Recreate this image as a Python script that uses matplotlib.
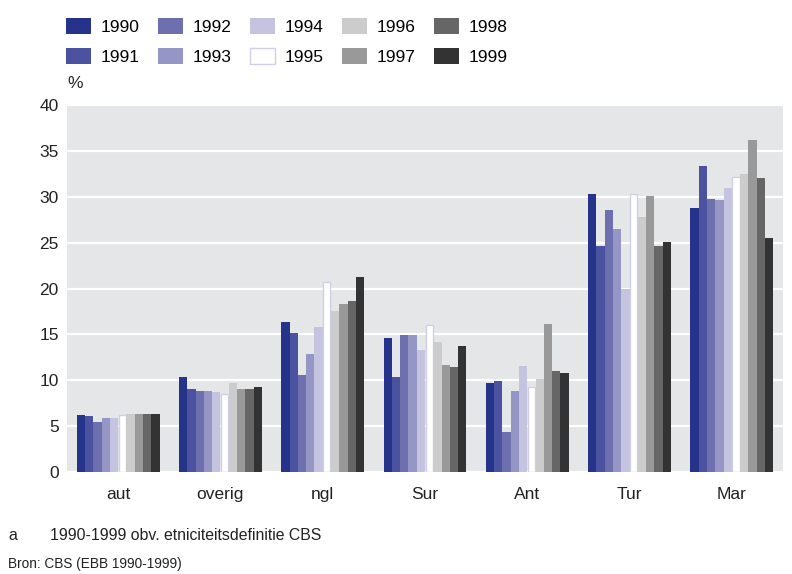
import numpy as np
import matplotlib
matplotlib.use("Agg")
import matplotlib.pyplot as plt
from matplotlib.patches import Patch

plt.rcParams["font.family"] = ["Liberation Sans", "DejaVu Sans"]
FS, FS_NOTE, FS_SRC = 12.5, 11.4, 9.8

# ── Data ─────────────────────────────────────────────
categories = ["aut", "overig", "ngl", "Sur", "Ant", "Tur", "Mar"]
years = ["1990", "1991", "1992", "1993", "1994",
         "1995", "1996", "1997", "1998", "1999"]

v1990 = [6.2, 10.3, 16.3, 14.6, 9.7, 30.3, 28.8]
v1991 = [6.1, 9.1, 15.1, 10.3, 9.9, 24.6, 33.3]
v1992 = [5.4, 8.8, 10.6, 14.9, 4.4, 28.6, 29.8]
v1993 = [5.9, 8.8, 12.9, 14.9, 8.8, 26.5, 29.7]
v1994 = [5.9, 8.7, 15.8, 13.3, 11.6, 19.9, 31.0]
v1995 = [6.2, 8.5, 20.7, 16.0, 9.3, 30.3, 32.1]
v1996 = [6.3, 9.7, 17.5, 14.2, 10.1, 27.8, 32.5]
v1997 = [6.3, 9.0, 18.3, 11.7, 16.1, 30.1, 36.2]
v1998 = [6.3, 9.0, 18.6, 11.4, 11.0, 24.6, 32.0]
v1999 = [6.3, 9.3, 21.2, 13.7, 10.8, 25.1, 25.5]

series = [v1990, v1991, v1992, v1993, v1994,
          v1995, v1996, v1997, v1998, v1999]

colors = ["#25338a", "#4b529f", "#6e6fae", "#9596c6", "#c4c4e0",
          "#ffffff", "#cccccc", "#999999", "#666666", "#333333"]
edge_1995 = "#cfcfe8"
TXT = "#222222"

# ── Figure ───────────────────────────────────────────
fig = plt.figure(figsize=(7.92, 5.74), dpi=100)
ax = fig.add_axes([67 / 792, 1 - 472 / 574, 716 / 792, 367 / 574])
ax.set_facecolor("#e5e6e8")

x = np.arange(len(categories))
width = 0.081
for i, (yr, vals) in enumerate(zip(years, series)):
    offs = (i - 4.5) * width
    if yr == "1995":
        ax.bar(x + offs, vals, width * 0.85, color=colors[i],
               edgecolor=edge_1995, linewidth=1.0, zorder=3)
    else:
        ax.bar(x + offs, vals, width, color=colors[i],
               linewidth=0, zorder=3)

ax.set_xlim(-0.5, len(categories) - 0.5)
ax.set_ylim(0, 40)
ax.set_yticks(np.arange(0, 41, 5))
ax.yaxis.grid(True, color="white", linewidth=1.6, zorder=0)
ax.set_axisbelow(True)
ax.set_xticks(x)
ax.set_xticklabels(categories, fontsize=FS, color=TXT)
ax.tick_params(axis="y", length=0, pad=6, labelsize=FS, labelcolor=TXT)
ax.tick_params(axis="x", length=0, pad=11)
for s in ax.spines.values():
    s.set_visible(False)

# legend
handles = []
for yr, c in zip(years, colors):
    if yr == "1995":
        handles.append(Patch(facecolor=c, edgecolor=edge_1995, linewidth=1.0, label=yr))
    else:
        handles.append(Patch(facecolor=c, edgecolor="none", label=yr))
fs_px = FS * 100 / 72
fig.legend(handles=handles, ncol=5, loc="upper left",
           bbox_to_anchor=(52 / 792, 1 - 4 / 574), frameon=False,
           fontsize=FS, handlelength=25 / fs_px, handleheight=18 / fs_px,
           handletextpad=10 / fs_px, columnspacing=18 / fs_px,
           labelspacing=13 / fs_px, borderpad=0.3)

fig.text(67 / 792, 1 - 84 / 574, "%", fontsize=FS, color=TXT,
         ha="left", va="center")

# notes
fig.text(8 / 792, 1 - 535 / 574, "a", fontsize=FS_NOTE, color=TXT,
         ha="left", va="center")
fig.text(50 / 792, 1 - 535 / 574, "1990-1999 obv. etniciteitsdefinitie CBS",
         fontsize=FS_NOTE, color=TXT, ha="left", va="center")
fig.text(8 / 792, 1 - 564 / 574, "Bron: CBS (EBB 1990-1999)",
         fontsize=FS_SRC, color=TXT, ha="left", va="center")

fig.savefig("out.png", dpi=100)
